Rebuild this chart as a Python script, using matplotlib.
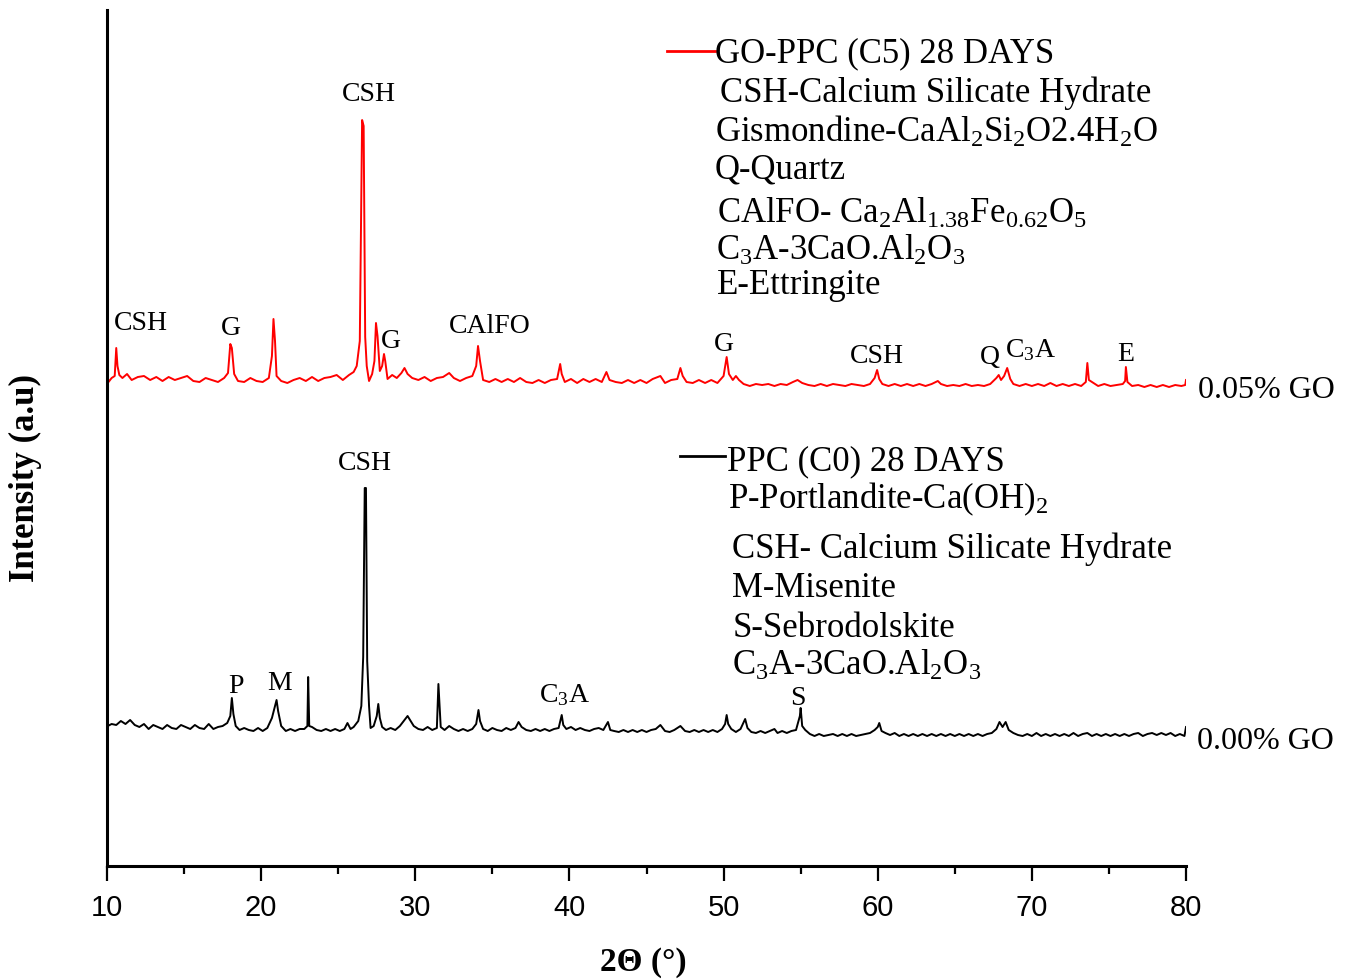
import matplotlib
matplotlib.use('Agg')
import matplotlib.pyplot as plt
from matplotlib.lines import Line2D
import numpy as np

plt.rcParams['font.family'] = ['Liberation Serif', 'DejaVu Serif']
plt.rcParams['mathtext.fontset'] = 'custom'
plt.rcParams['mathtext.rm'] = 'Liberation Serif'
plt.rcParams['mathtext.it'] = 'Liberation Serif:italic'
plt.rcParams['mathtext.bf'] = 'Liberation Serif:bold'

# GO-PPC (C5), 0.05% GO  -- red pattern (intensity in arbitrary units)
go_two_theta = [
    10.0, 10.1, 10.3, 10.5, 10.6, 10.68, 10.8, 11.0, 11.3, 11.6,
    12.0, 12.4, 12.8, 13.2, 13.6, 14.0, 14.4, 14.8, 15.2, 15.6,
    16.0, 16.4, 16.8, 17.2, 17.6, 17.85, 18.0, 18.1, 18.25, 18.5,
    18.9, 19.3, 19.7, 20.1, 20.5, 20.7, 20.8, 20.9, 21.0, 21.3,
    21.7, 22.1, 22.5, 22.9, 23.3, 23.7, 24.1, 24.5, 24.9, 25.3,
    25.7, 26.0, 26.2, 26.4, 26.55, 26.65, 26.75, 26.85, 27.0, 27.2,
    27.35, 27.45, 27.55, 27.7, 27.85, 27.97, 28.05, 28.2, 28.5, 28.8,
    29.1, 29.3, 29.5, 29.8, 30.2, 30.6, 31.0, 31.4, 31.8, 32.2,
    32.5, 32.9, 33.3, 33.7, 33.95, 34.07, 34.2, 34.4, 34.8, 35.2,
    35.6, 36.0, 36.4, 36.8, 37.2, 37.6, 38.0, 38.4, 38.8, 39.2,
    39.4, 39.5, 39.7, 40.1, 40.5, 40.9, 41.3, 41.7, 42.1, 42.4,
    42.6, 43.0, 43.4, 43.8, 44.2, 44.6, 45.0, 45.4, 45.9, 46.2,
    46.6, 47.0, 47.2, 47.35, 47.6, 48.0, 48.4, 48.8, 49.2, 49.6,
    50.0, 50.2, 50.35, 50.6, 50.8, 51.0, 51.3, 51.7, 52.1, 52.5,
    52.9, 53.3, 53.7, 54.1, 54.5, 54.8, 55.1, 55.5, 55.9, 56.3,
    56.7, 57.1, 57.5, 57.9, 58.3, 58.7, 59.1, 59.5, 59.8, 59.96,
    60.1, 60.3, 60.7, 61.1, 61.5, 61.9, 62.3, 62.7, 63.1, 63.5,
    63.9, 64.1, 64.5, 64.9, 65.3, 65.7, 66.1, 66.5, 66.9, 67.3,
    67.7, 67.85, 68.0, 68.2, 68.4, 68.6, 68.8, 69.2, 69.6, 70.0,
    70.4, 70.8, 71.2, 71.6, 72.0, 72.4, 72.8, 73.2, 73.5, 73.6,
    73.7, 73.9, 74.3, 74.7, 75.1, 75.5, 75.9, 76.05, 76.1, 76.2,
    76.5, 76.9, 77.3, 77.7, 78.1, 78.5, 78.9, 79.3, 79.7, 79.95,
    80.0,
]
go_intensity = [
    494, 484, 488, 490, 518, 500, 491, 488, 492, 486,
    489, 490, 486, 489, 485, 489, 486, 488, 490, 485,
    484, 488, 486, 484, 488, 493, 522, 518, 492, 485,
    484, 488, 485, 484, 488, 510, 547, 525, 490, 485,
    483, 486, 488, 485, 489, 485, 488, 489, 491, 486,
    491, 494, 500, 525, 746, 740, 529, 500, 485, 492,
    505, 543, 530, 495, 500, 512, 505, 487, 491, 488,
    493, 498, 492, 488, 486, 489, 485, 488, 489, 493,
    488, 485, 488, 490, 500, 520, 505, 486, 484, 487,
    484, 487, 484, 488, 484, 483, 486, 483, 486, 487,
    502, 492, 484, 487, 483, 487, 484, 487, 484, 494,
    486, 484, 483, 486, 483, 486, 483, 487, 490, 483,
    486, 487, 498, 490, 484, 483, 486, 483, 486, 483,
    490, 509, 492, 486, 490, 486, 482, 480, 482, 481,
    482, 480, 482, 481, 484, 486, 483, 481, 480, 482,
    480, 482, 481, 480, 482, 481, 480, 482, 488, 496,
    487, 482, 480, 482, 480, 482, 480, 482, 480, 482,
    485, 482, 480, 481, 480, 482, 480, 481, 480, 482,
    488, 491, 486, 490, 498, 487, 482, 480, 482, 480,
    482, 480, 483, 480, 482, 480, 482, 480, 484, 503,
    486, 484, 480, 482, 480, 481, 482, 485, 499, 484,
    480, 481, 479, 481, 479, 481, 479, 481, 480, 481,
    486,
]

# PPC (C0), 0.00% GO  -- black pattern
ppc_two_theta = [
    10.0, 10.05, 10.3, 10.6, 10.9, 11.2, 11.5, 11.8, 12.1, 12.4,
    12.7, 13.0, 13.3, 13.6, 13.9, 14.2, 14.5, 14.8, 15.1, 15.4,
    15.7, 16.0, 16.3, 16.6, 16.9, 17.2, 17.5, 17.8, 18.0, 18.1,
    18.2, 18.35, 18.6, 18.9, 19.2, 19.5, 19.8, 20.1, 20.4, 20.7,
    20.9, 21.0, 21.1, 21.3, 21.6, 21.9, 22.2, 22.5, 22.8, 23.0,
    23.05, 23.12, 23.3, 23.6, 23.9, 24.2, 24.5, 24.8, 25.1, 25.4,
    25.6, 25.8, 26.0, 26.3, 26.5, 26.62, 26.72, 26.8, 26.88, 27.0,
    27.1, 27.3, 27.5, 27.6, 27.7, 27.85, 28.1, 28.4, 28.7, 29.0,
    29.3, 29.5, 29.7, 29.9, 30.2, 30.5, 30.8, 31.1, 31.4, 31.5,
    31.58, 31.65, 31.9, 32.2, 32.5, 32.8, 33.1, 33.4, 33.7, 33.95,
    34.1, 34.2, 34.4, 34.7, 35.0, 35.3, 35.6, 35.9, 36.2, 36.5,
    36.7, 36.9, 37.2, 37.5, 37.8, 38.1, 38.4, 38.7, 39.0, 39.3,
    39.5, 39.6, 39.8, 40.1, 40.4, 40.7, 41.0, 41.3, 41.6, 41.9,
    42.2, 42.5, 42.65, 42.9, 43.2, 43.5, 43.8, 44.1, 44.4, 44.7,
    45.0, 45.3, 45.6, 45.9, 46.2, 46.5, 46.8, 47.0, 47.2, 47.5,
    47.8, 48.1, 48.4, 48.7, 49.0, 49.3, 49.6, 49.9, 50.1, 50.2,
    50.3, 50.5, 50.8, 51.1, 51.4, 51.55, 51.8, 52.1, 52.4, 52.7,
    53.0, 53.3, 53.5, 53.8, 54.1, 54.4, 54.7, 54.95, 55.0, 55.1,
    55.3, 55.6, 55.9, 56.2, 56.5, 56.8, 57.1, 57.4, 57.7, 58.0,
    58.3, 58.6, 58.9, 59.2, 59.5, 59.8, 60.0, 60.1, 60.25, 60.5,
    60.8, 61.1, 61.4, 61.7, 62.0, 62.3, 62.6, 62.9, 63.2, 63.5,
    63.8, 64.1, 64.4, 64.7, 65.0, 65.3, 65.6, 65.9, 66.2, 66.5,
    66.8, 67.1, 67.4, 67.7, 67.9, 68.1, 68.3, 68.5, 68.8, 69.1,
    69.4, 69.7, 70.0, 70.3, 70.6, 70.9, 71.2, 71.5, 71.8, 72.1,
    72.4, 72.7, 73.0, 73.3, 73.6, 73.9, 74.2, 74.5, 74.8, 75.1,
    75.4, 75.7, 76.0, 76.3, 76.6, 76.9, 77.2, 77.5, 77.8, 78.1,
    78.4, 78.7, 79.0, 79.3, 79.6, 79.9, 80.0,
]
ppc_intensity = [
    133, 140, 142, 141, 145, 142, 146, 141, 139, 142,
    137, 141, 139, 137, 141, 138, 137, 141, 139, 137,
    141, 138, 137, 142, 137, 139, 140, 143, 150, 168,
    152, 140, 136, 138, 136, 135, 138, 135, 138, 148,
    160, 166, 155, 140, 135, 137, 135, 137, 137, 140,
    189, 140, 139, 136, 135, 137, 135, 137, 135, 137,
    143, 137, 139, 145, 160, 209, 378, 378, 205, 160,
    138, 140, 150, 162, 148, 139, 136, 138, 136, 140,
    146, 150, 145, 140, 137, 136, 139, 136, 138, 182,
    160, 139, 136, 140, 137, 135, 137, 135, 137, 142,
    156, 145, 137, 135, 138, 136, 135, 138, 136, 138,
    144, 139, 136, 135, 137, 135, 137, 135, 137, 138,
    151, 141, 137, 139, 136, 138, 136, 135, 137, 138,
    136, 144, 136, 135, 134, 136, 134, 136, 134, 136,
    134, 136, 137, 141, 135, 134, 136, 138, 140, 135,
    134, 136, 134, 136, 134, 136, 134, 137, 142, 151,
    142, 137, 134, 137, 147, 138, 134, 133, 135, 133,
    135, 137, 133, 135, 133, 135, 136, 150, 158, 140,
    136, 132, 130, 132, 130, 131, 132, 130, 132, 130,
    132, 130, 131, 132, 133, 136, 139, 143, 135, 133,
    131, 133, 130, 132, 130, 132, 130, 132, 130, 132,
    130, 132, 130, 132, 130, 132, 130, 132, 130, 132,
    130, 132, 133, 137, 144, 139, 144, 136, 133, 131,
    130, 132, 130, 133, 130, 132, 130, 132, 130, 132,
    130, 133, 130, 132, 133, 130, 132, 130, 132, 130,
    132, 130, 132, 130, 132, 133, 130, 132, 133, 131,
    133, 131, 133, 130, 132, 130, 139,
]

# phase labels over the peaks: text, 2-theta centre, label baseline height
go_peak_labels = ['CSH', 'G', 'CSH', 'G', 'CAlFO', 'G', 'CSH', 'Q',
                  r'C$_\mathrm{3}$A', 'E']
go_label_theta = [12.2, 18.04, 27.0, 28.42, 34.85, 50.03, 59.95, 67.29, 69.88, 76.11]
go_label_height = [536, 531, 765, 518, 533, 515, 503, 502, 509, 505]

ppc_peak_labels = ['P', 'M', 'CSH', r'C$_\mathrm{3}$A', 'S']
ppc_label_theta = [18.37, 21.22, 26.74, 39.65, 54.83]
ppc_label_height = [173, 176, 396, 164, 161]

go_key = [
    'CSH-Calcium Silicate Hydrate',
    r'Gismondine-CaAl$_\mathrm{2}$Si$_\mathrm{2}$O2.4H$_\mathrm{2}$O',
    'Q-Quartz',
    r'CAlFO- Ca$_\mathrm{2}$Al$_\mathrm{1.38}$Fe$_\mathrm{0.62}$O$_\mathrm{5}$',
    r'C$_\mathrm{3}$A-3CaO.Al$_\mathrm{2}$O$_\mathrm{3}$',
    'E-Ettringite',
]
ppc_key = [
    r'P-Portlandite-Ca(OH)$_\mathrm{2}$',
    'CSH- Calcium Silicate Hydrate',
    'M-Misenite',
    'S-Sebrodolskite',
    r'C$_\mathrm{3}$A-3CaO.Al$_\mathrm{2}$O$_\mathrm{3}$',
]

W, H = 1367, 980
fig = plt.figure(figsize=(W / 100, H / 100), dpi=100)
ax = fig.add_axes([107 / W, (H - 866) / H, (1186 - 107) / W, (866 - 10) / H])

ax.plot(go_two_theta, go_intensity, color='red', lw=1.4)
ax.plot(ppc_two_theta, ppc_intensity, color='black', lw=1.4)

for lab, x, y in zip(go_peak_labels, go_label_theta, go_label_height):
    ax.text(x, y, lab, ha='center', va='baseline', fontsize=20)
for lab, x, y in zip(ppc_peak_labels, ppc_label_theta, ppc_label_height):
    ax.text(x, y, lab, ha='center', va='baseline', fontsize=20)

ax.set_xlim(10, 80)
ax.set_ylim(0, 856)
ax.spines['top'].set_visible(False)
ax.spines['right'].set_visible(False)
ax.spines['left'].set_linewidth(2.2)
ax.spines['bottom'].set_linewidth(2.2)
ax.set_yticks([])
ax.set_xticks(np.arange(10, 81, 10))
ax.set_xticks(np.arange(15, 80, 10), minor=True)
ax.tick_params(axis='x', which='major', direction='out', length=11, width=1.6, pad=9)
ax.tick_params(axis='x', which='minor', direction='out', length=6, width=1.6)
for t in ax.get_xticklabels():
    t.set_family(['Liberation Sans', 'DejaVu Sans'])
    t.set_fontsize(21)


def px(x, y):
    return x / W, 1 - y / H


# series keys
fig.add_artist(Line2D([667 / W, 715 / W], [1 - 51 / H] * 2, color='red', lw=2,
                      transform=fig.transFigure))
fig.add_artist(Line2D([680 / W, 725 / W], [1 - 456 / H] * 2, color='black', lw=2,
                      transform=fig.transFigure))
fig.text(*px(715, 62), 'GO-PPC (C5) 28 DAYS', fontsize=25, va='baseline')
fig.text(*px(727, 470), 'PPC (C0) 28 DAYS', fontsize=25, va='baseline')

go_key_x = [720, 715, 715, 717, 716, 717]
go_key_y = [102, 142, 179, 223, 260, 294]
for s, x, y in zip(go_key, go_key_x, go_key_y):
    fig.text(*px(x, y), s, fontsize=25, va='baseline')

ppc_key_x = [728, 732, 732, 733, 732]
ppc_key_y = [508, 558, 597, 637, 675]
for s, x, y in zip(ppc_key, ppc_key_x, ppc_key_y):
    fig.text(*px(x, y), s, fontsize=25, va='baseline')

fig.text(*px(1198, 398), '0.05% GO', fontsize=23, va='baseline')
fig.text(*px(1197, 749), '0.00% GO', fontsize=23, va='baseline')

fig.text(*px(25, 478), 'Intensity (a.u)', fontsize=25, fontweight='bold',
         rotation=90, ha='center', va='center')
fig.text(*px(643, 962), '2Θ (°)', fontsize=24, fontweight='bold',
         ha='center', va='center')

fig.savefig('out.png', dpi=100)
